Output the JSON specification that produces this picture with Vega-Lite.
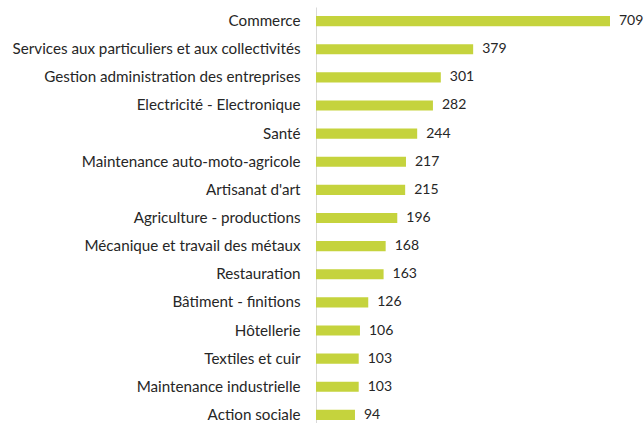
{
  "$schema": "https://vega.github.io/schema/vega-lite/v6.json",
  "autosize": "none",
  "width": 328,
  "height": 422,
  "padding": {"left": 316, "top": 7, "right": 0, "bottom": 0},
  "config": {"view": {"stroke": null}, "font": "Lato"},
  "data": {"values": [
    {"cat": "Commerce", "v": 709},
    {"cat": "Services aux particuliers et aux collectivités", "v": 379},
    {"cat": "Gestion administration des entreprises", "v": 301},
    {"cat": "Electricité - Electronique", "v": 282},
    {"cat": "Santé", "v": 244},
    {"cat": "Maintenance auto-moto-agricole", "v": 217},
    {"cat": "Artisanat d'art", "v": 215},
    {"cat": "Agriculture - productions ", "v": 196},
    {"cat": "Mécanique et travail des métaux", "v": 168},
    {"cat": "Restauration", "v": 163},
    {"cat": "Bâtiment - finitions", "v": 126},
    {"cat": "Hôtellerie", "v": 106},
    {"cat": "Textiles et cuir", "v": 103},
    {"cat": "Maintenance industrielle", "v": 103},
    {"cat": "Action sociale", "v": 94}
  ]},
  "encoding": {
    "y": {"field": "cat", "type": "nominal", "sort": null,
      "scale": {"paddingInner": 0.64, "paddingOuter": 0.32},
      "axis": {"title": null, "ticks": false, "domain": true, "domainColor": "#d9d9d9", "labelPadding": 16, "labelLimit": 400, "labelFontSize": 15.2, "labelColor": "#262626", "labelFont": "Lato"}},
    "x": {"field": "v", "type": "quantitative", "scale": {"domain": [0, 791]}, "axis": null}
  },
  "layer": [
    {"mark": {"type": "bar", "color": "#c5d33d"}},
    {"mark": {"type": "text", "align": "left", "dx": 9, "fontSize": 14, "color": "#262626", "font": "Lato"},
     "encoding": {"text": {"field": "v", "type": "quantitative"}}}
  ]
}
